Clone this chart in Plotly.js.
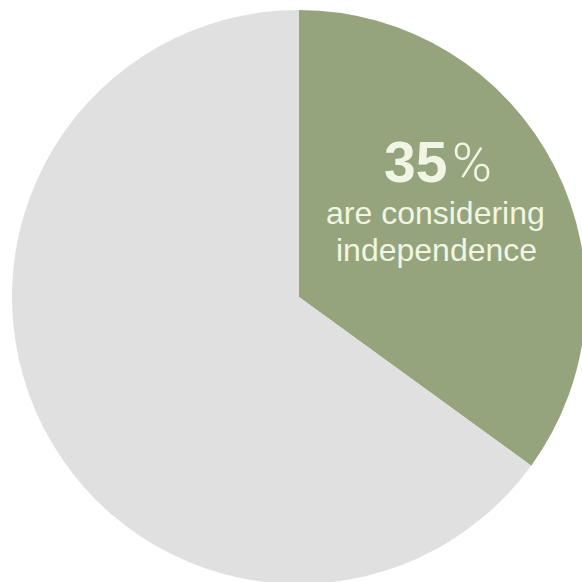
<!DOCTYPE html>
<html>
<head>
<meta charset="utf-8">
<script src="https://cdn.plot.ly/plotly-3.0.1.min.js"></script>
<style>
html,body{margin:0;padding:0;overflow:hidden;background:#ffffff;}
#chart{width:590px;height:590px;}
</style>
</head>
<body>
<div id="chart"></div>
<script>
var labels = ["Considering independence", "Not considering"];
var values = [35, 65];
var sliceColors = ["#95a47d", "#e0e0e0"];
var headline = "35";
var caption = ["are considering", "independence"];

var W = 590, H = 590;
function px(x){ return x / W; }
function py(y){ return 1 - y / H; }

var data = [{
  type: "pie",
  labels: labels,
  values: values,
  sort: false,
  direction: "clockwise",
  rotation: 0,
  textinfo: "none",
  hoverinfo: "none",
  showlegend: false,
  marker: {colors: sliceColors, line: {width: 0}},
  domain: {x: [px(12), px(586)], y: [py(584), py(10)]}
}];

var txtColor = "#f1f5e3";
var layout = {
  width: W, height: H,
  margin: {l: 0, r: 0, t: 0, b: 0},
  paper_bgcolor: "#ffffff",
  showlegend: false,
  annotations: [
    {xref: "paper", yref: "paper", x: px(448), y: py(162.3), xanchor: "right", yanchor: "middle",
     text: headline, showarrow: false, borderpad: 0,
     font: {family: "Liberation Sans, Arial, sans-serif", size: 57, color: txtColor, weight: 700}},
    {xref: "paper", yref: "paper", x: px(451), y: py(162.6), xanchor: "left", yanchor: "middle",
     text: "%", showarrow: false, borderpad: 0,
     font: {family: "Roboto, sans-serif", size: 54, color: txtColor, weight: 300}},
    {xref: "paper", yref: "paper", x: px(435), y: py(212.9), xanchor: "center", yanchor: "middle",
     text: caption[0], showarrow: false, borderpad: 0,
     font: {family: "Liberation Sans, Arial, sans-serif", size: 32, color: txtColor, weight: 400}},
    {xref: "paper", yref: "paper", x: px(436), y: py(249.9), xanchor: "center", yanchor: "middle",
     text: caption[1], showarrow: false, borderpad: 0,
     font: {family: "Liberation Sans, Arial, sans-serif", size: 32, color: txtColor, weight: 400}}
  ]
};

Plotly.newPlot("chart", data, layout, {displayModeBar: false, staticPlot: true});
</script>
</body>
</html>
